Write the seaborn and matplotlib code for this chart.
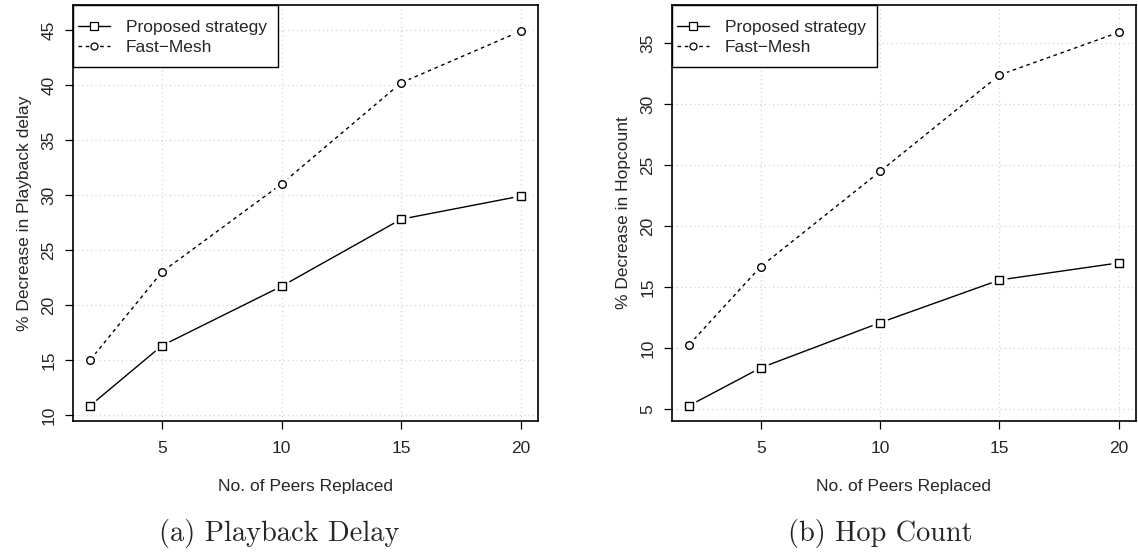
import numpy as np
import pandas as pd
import matplotlib
matplotlib.use("Agg")
import matplotlib.pyplot as plt
from matplotlib.lines import Line2D
from matplotlib.patches import Rectangle
import seaborn as sns

# Number of peers replaced (shared x values)
peers = [2, 5, 10, 15, 20]

# (a) Playback delay: % decrease
delay_proposed = [10.85, 16.3, 21.7, 27.8, 29.9]
delay_fastmesh = [15.0, 23.0, 31.0, 40.2, 44.9]

# (b) Hop count: % decrease
hop_proposed = [5.3, 8.4, 12.1, 15.6, 17.0]
hop_fastmesh = [10.3, 16.7, 24.5, 32.4, 35.9]

series_names = ["Proposed strategy", "Fast\u2212Mesh"]
x_label = "No. of Peers Replaced"
y_labels = ["% Decrease in Playback delay", "% Decrease in Hopcount"]
captions = ["(a) Playback Delay", "(b) Hop Count"]
x_ticks = [5, 10, 15, 20]
y_ticks = [[10, 15, 20, 25, 30, 35, 40, 45], [5, 10, 15, 20, 25, 30, 35]]
y_limits = [(9.45, 47.27), (4.04, 38.14)]

sns.set_theme(style="white")
plt.rcParams["font.family"] = ["Liberation Sans", "DejaVu Sans"]
FS = 12.5
DASH = (0, (2.6, 2.6))

fig = plt.figure(figsize=(11.38, 5.52), dpi=100)
fig.patch.set_facecolor("white")
ax_a = fig.add_axes([0.0641, 0.2373, 0.4087, 0.7536])
ax_b = fig.add_axes([0.5905, 0.2373, 0.4077, 0.7536])

styles = {
    series_names[0]: dict(ls="-", marker="s", ms=36),
    series_names[1]: dict(ls=DASH, marker="o", ms=30),
}

panels = [
    (ax_a, delay_proposed, delay_fastmesh),
    (ax_b, hop_proposed, hop_fastmesh),
]

for i, (ax, prop, fast) in enumerate(panels):
    df = pd.DataFrame({
        "peers": peers * 2,
        "value": prop + fast,
        "series": [series_names[0]] * len(peers) + [series_names[1]] * len(peers),
    })
    ax.set_facecolor("white")
    # dotted grid at tick positions
    for xv in x_ticks:
        ax.axvline(xv, color="#d3d3d3", lw=0.9, ls=(0, (1, 2.5)), zorder=0)
    for yv in y_ticks[i]:
        ax.axhline(yv, color="#d3d3d3", lw=0.9, ls=(0, (1, 2.5)), zorder=0)

    for name in series_names:
        sub = df[df["series"] == name]
        st = styles[name]
        sns.lineplot(data=sub, x="peers", y="value", ax=ax, color="black",
                     lw=1.0, linestyle=st["ls"], zorder=2, legend=False)
        # white halo leaves a small gap between line and point
        sns.scatterplot(data=sub, x="peers", y="value", ax=ax, marker="o",
                        s=140, color="white", edgecolor="white",
                        linewidth=0, zorder=3, legend=False)
        sns.scatterplot(data=sub, x="peers", y="value", ax=ax, marker=st["marker"],
                        s=st["ms"], facecolor="white", edgecolor="black",
                        linewidth=1.0, zorder=4, legend=False)

    ax.set_xlim(1.28, 20.72)
    ax.set_ylim(*y_limits[i])
    ax.set_xticks(x_ticks)
    ax.set_yticks(y_ticks[i])
    ax.set_xticklabels([str(v) for v in x_ticks], fontsize=FS)
    ax.set_yticklabels([str(v) for v in y_ticks[i]], fontsize=FS,
                       rotation=90, va="center")
    ax.tick_params(axis="both", which="major", direction="out", length=5.8,
                   width=0.9, color="black", left=True, bottom=True)
    ax.tick_params(axis="x", pad=8.5)
    ax.tick_params(axis="y", pad=6)
    for sp in ax.spines.values():
        sp.set_visible(True)
        sp.set_color("black")
        sp.set_linewidth(1.2)
    ax.set_xlabel(x_label, fontsize=FS, labelpad=17)
    ax.set_ylabel(y_labels[i], fontsize=FS, labelpad=7)

    # legend box flush with the top-left corner of the panel
    ax.add_patch(Rectangle((0, 0.851), 0.441, 0.149, transform=ax.transAxes,
                           facecolor="white", edgecolor="black", lw=1.0,
                           zorder=5, clip_on=False))
    handles = [
        Line2D([], [], color="black", lw=1.0, ls="-", marker="s", ms=5.5,
               mfc="white", mec="black", mew=0.9),
        Line2D([], [], color="black", lw=1.0, ls=DASH, marker="o",
               ms=5, mfc="white", mec="black", mew=0.9),
    ]
    leg = ax.legend(handles, series_names, loc="upper left",
                    bbox_to_anchor=(0.011, 0.965), fontsize=FS, frameon=False,
                    borderaxespad=0, borderpad=0,
                    handlelength=1.85, handletextpad=0.9, labelspacing=0.28)
    leg.set_zorder(6)

for cap, xc in zip(captions, [279, 880]):
    fig.text(xc / 1138, 1 - 533 / 552, cap, family="cmr10",
             fontsize=20.4, ha="center", va="center")

fig.savefig("out.png", dpi=100, facecolor="white")
